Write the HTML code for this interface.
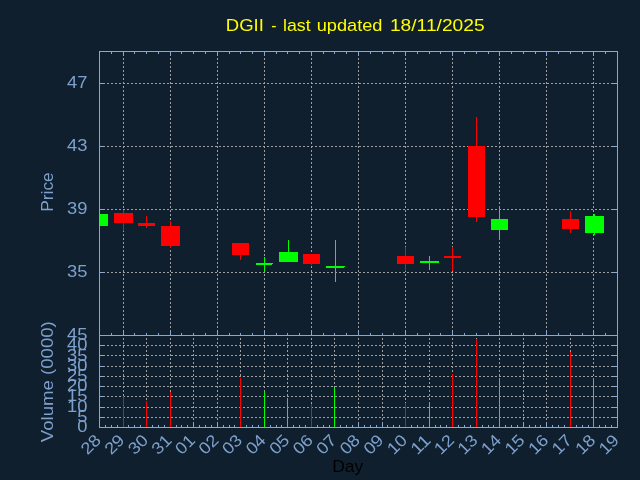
<!DOCTYPE html>
<html><head><meta charset="utf-8"><title>DGII</title>
<style>html,body{margin:0;padding:0;background:#101f2e;overflow:hidden;width:640px;height:480px}svg{display:block;position:absolute;left:0;top:0}text{font-family:"Liberation Sans",sans-serif}</style>
</head><body>
<svg width="640" height="480" viewBox="0 0 640 480">
<defs><filter id="f" x="0" y="0" width="640" height="480" filterUnits="userSpaceOnUse" color-interpolation-filters="sRGB"><feOffset dx="0" dy="0"/></filter></defs>
<rect x="0" y="0" width="640" height="480" fill="#101f2e"/>
<g shape-rendering="crispEdges" stroke="#a0a0a0" stroke-width="1" stroke-dasharray="2 2" fill="none">
<line x1="99" y1="83.5" x2="617" y2="83.5" stroke-dashoffset="0"/>
<line x1="99" y1="146.5" x2="617" y2="146.5" stroke-dashoffset="0"/>
<line x1="99" y1="209.5" x2="617" y2="209.5" stroke-dashoffset="0"/>
<line x1="99" y1="272.5" x2="617" y2="272.5" stroke-dashoffset="0"/>
<line x1="123.5" y1="52" x2="123.5" y2="335" stroke-dashoffset="2"/>
<line x1="170.5" y1="52" x2="170.5" y2="335" stroke-dashoffset="2"/>
<line x1="217.5" y1="52" x2="217.5" y2="335" stroke-dashoffset="2"/>
<line x1="264.5" y1="52" x2="264.5" y2="335" stroke-dashoffset="2"/>
<line x1="311.5" y1="52" x2="311.5" y2="335" stroke-dashoffset="2"/>
<line x1="358.5" y1="52" x2="358.5" y2="335" stroke-dashoffset="2"/>
<line x1="405.5" y1="52" x2="405.5" y2="335" stroke-dashoffset="2"/>
<line x1="452.5" y1="52" x2="452.5" y2="335" stroke-dashoffset="2"/>
<line x1="499.5" y1="52" x2="499.5" y2="335" stroke-dashoffset="2"/>
<line x1="546.5" y1="52" x2="546.5" y2="335" stroke-dashoffset="2"/>
<line x1="593.5" y1="52" x2="593.5" y2="335" stroke-dashoffset="2"/>
<line x1="99" y1="417.5" x2="617" y2="417.5"/>
<line x1="99" y1="407.5" x2="617" y2="407.5"/>
<line x1="99" y1="396.5" x2="617" y2="396.5"/>
<line x1="99" y1="386.5" x2="617" y2="386.5"/>
<line x1="99" y1="376.5" x2="617" y2="376.5"/>
<line x1="99" y1="366.5" x2="617" y2="366.5"/>
<line x1="99" y1="355.5" x2="617" y2="355.5"/>
<line x1="99" y1="345.5" x2="617" y2="345.5"/>
<line x1="123.5" y1="336" x2="123.5" y2="427" stroke-dashoffset="2"/>
<line x1="146.5" y1="336" x2="146.5" y2="427" stroke-dashoffset="2"/>
<line x1="170.5" y1="336" x2="170.5" y2="427" stroke-dashoffset="2"/>
<line x1="193.5" y1="336" x2="193.5" y2="427" stroke-dashoffset="2"/>
<line x1="217.5" y1="336" x2="217.5" y2="427" stroke-dashoffset="2"/>
<line x1="240.5" y1="336" x2="240.5" y2="427" stroke-dashoffset="2"/>
<line x1="264.5" y1="336" x2="264.5" y2="427" stroke-dashoffset="2"/>
<line x1="287.5" y1="336" x2="287.5" y2="427" stroke-dashoffset="2"/>
<line x1="311.5" y1="336" x2="311.5" y2="427" stroke-dashoffset="2"/>
<line x1="334.5" y1="336" x2="334.5" y2="427" stroke-dashoffset="2"/>
<line x1="358.5" y1="336" x2="358.5" y2="427" stroke-dashoffset="2"/>
<line x1="382.5" y1="336" x2="382.5" y2="427" stroke-dashoffset="2"/>
<line x1="405.5" y1="336" x2="405.5" y2="427" stroke-dashoffset="2"/>
<line x1="429.5" y1="336" x2="429.5" y2="427" stroke-dashoffset="2"/>
<line x1="452.5" y1="336" x2="452.5" y2="427" stroke-dashoffset="2"/>
<line x1="476.5" y1="336" x2="476.5" y2="427" stroke-dashoffset="2"/>
<line x1="499.5" y1="336" x2="499.5" y2="427" stroke-dashoffset="2"/>
<line x1="523.5" y1="336" x2="523.5" y2="427" stroke-dashoffset="2"/>
<line x1="546.5" y1="336" x2="546.5" y2="427" stroke-dashoffset="2"/>
<line x1="570.5" y1="336" x2="570.5" y2="427" stroke-dashoffset="2"/>
<line x1="593.5" y1="336" x2="593.5" y2="427" stroke-dashoffset="2"/>
</g>
<g shape-rendering="crispEdges">
<rect x="100" y="214" width="8" height="12" fill="#00ff00"/>
<rect x="123" y="210" width="1" height="21" fill="#ff0000"/>
<rect x="114" y="213" width="19" height="10" fill="#ff0000"/>
<rect x="146" y="216" width="1" height="12" fill="#ff0000"/>
<rect x="138" y="223" width="17" height="3" fill="#ff0000"/>
<rect x="170" y="221" width="1" height="27" fill="#ff0000"/>
<rect x="161" y="226" width="19" height="20" fill="#ff0000"/>
<rect x="240" y="243" width="1" height="17" fill="#ff0000"/>
<rect x="232" y="243" width="17" height="12" fill="#ff0000"/>
<rect x="264" y="257" width="1" height="15" fill="#00ff00"/>
<rect x="256" y="263" width="17" height="2" fill="#00ff00"/>
<rect x="288" y="240" width="1" height="22" fill="#00ff00"/>
<rect x="279" y="252" width="19" height="10" fill="#00ff00"/>
<rect x="311" y="254" width="1" height="11" fill="#ff0000"/>
<rect x="303" y="254" width="17" height="10" fill="#ff0000"/>
<rect x="335" y="240" width="1" height="42" fill="#00ff00"/>
<rect x="326" y="266" width="19" height="2" fill="#00ff00"/>
<rect x="405" y="247" width="1" height="24" fill="#ff0000"/>
<rect x="397" y="256" width="17" height="8" fill="#ff0000"/>
<rect x="429" y="256" width="1" height="14" fill="#00ff00"/>
<rect x="420" y="261" width="19" height="2" fill="#00ff00"/>
<rect x="452" y="247" width="1" height="24" fill="#ff0000"/>
<rect x="444" y="256" width="17" height="2" fill="#ff0000"/>
<rect x="476" y="117" width="1" height="105" fill="#ff0000"/>
<rect x="468" y="146" width="17" height="71" fill="#ff0000"/>
<rect x="499" y="206" width="1" height="33" fill="#00ff00"/>
<rect x="491" y="219" width="17" height="11" fill="#00ff00"/>
<rect x="570" y="211" width="1" height="22" fill="#ff0000"/>
<rect x="562" y="219" width="17" height="10" fill="#ff0000"/>
<rect x="594" y="214" width="1" height="21" fill="#00ff00"/>
<rect x="585" y="216" width="19" height="17" fill="#00ff00"/>
<rect x="272" y="264" width="1" height="1" fill="#101f2e"/>
<rect x="344" y="267" width="1" height="1" fill="#101f2e"/>
</g>
<g shape-rendering="crispEdges" fill="#84a9d6">
<rect x="99" y="51" width="519" height="1"/>
<rect x="99" y="335" width="519" height="1"/>
<rect x="99" y="427" width="519" height="1"/>
<rect x="99" y="51" width="1" height="377"/>
<rect x="617" y="51" width="1" height="377"/>
<rect x="100" y="83" width="4" height="1"/>
<rect x="613" y="83" width="4" height="1"/>
<rect x="100" y="146" width="4" height="1"/>
<rect x="613" y="146" width="4" height="1"/>
<rect x="100" y="209" width="4" height="1"/>
<rect x="613" y="209" width="4" height="1"/>
<rect x="100" y="272" width="4" height="1"/>
<rect x="613" y="272" width="4" height="1"/>
<rect x="100" y="417" width="4" height="1"/>
<rect x="613" y="417" width="4" height="1"/>
<rect x="100" y="407" width="4" height="1"/>
<rect x="613" y="407" width="4" height="1"/>
<rect x="100" y="396" width="4" height="1"/>
<rect x="613" y="396" width="4" height="1"/>
<rect x="100" y="386" width="4" height="1"/>
<rect x="613" y="386" width="4" height="1"/>
<rect x="100" y="376" width="4" height="1"/>
<rect x="613" y="376" width="4" height="1"/>
<rect x="100" y="366" width="4" height="1"/>
<rect x="613" y="366" width="4" height="1"/>
<rect x="100" y="355" width="4" height="1"/>
<rect x="613" y="355" width="4" height="1"/>
<rect x="100" y="345" width="4" height="1"/>
<rect x="613" y="345" width="4" height="1"/>
<rect x="111" y="52" width="1" height="2"/>
<rect x="111" y="333" width="1" height="2"/>
<rect x="123" y="52" width="1" height="4"/>
<rect x="123" y="331" width="1" height="4"/>
<rect x="134" y="52" width="1" height="2"/>
<rect x="134" y="333" width="1" height="2"/>
<rect x="146" y="52" width="1" height="2"/>
<rect x="146" y="333" width="1" height="2"/>
<rect x="158" y="52" width="1" height="2"/>
<rect x="158" y="333" width="1" height="2"/>
<rect x="170" y="52" width="1" height="4"/>
<rect x="170" y="331" width="1" height="4"/>
<rect x="181" y="52" width="1" height="2"/>
<rect x="181" y="333" width="1" height="2"/>
<rect x="193" y="52" width="1" height="2"/>
<rect x="193" y="333" width="1" height="2"/>
<rect x="205" y="52" width="1" height="2"/>
<rect x="205" y="333" width="1" height="2"/>
<rect x="217" y="52" width="1" height="4"/>
<rect x="217" y="331" width="1" height="4"/>
<rect x="229" y="52" width="1" height="2"/>
<rect x="229" y="333" width="1" height="2"/>
<rect x="240" y="52" width="1" height="2"/>
<rect x="240" y="333" width="1" height="2"/>
<rect x="252" y="52" width="1" height="2"/>
<rect x="252" y="333" width="1" height="2"/>
<rect x="264" y="52" width="1" height="4"/>
<rect x="264" y="331" width="1" height="4"/>
<rect x="276" y="52" width="1" height="2"/>
<rect x="276" y="333" width="1" height="2"/>
<rect x="287" y="52" width="1" height="2"/>
<rect x="287" y="333" width="1" height="2"/>
<rect x="299" y="52" width="1" height="2"/>
<rect x="299" y="333" width="1" height="2"/>
<rect x="311" y="52" width="1" height="4"/>
<rect x="311" y="331" width="1" height="4"/>
<rect x="323" y="52" width="1" height="2"/>
<rect x="323" y="333" width="1" height="2"/>
<rect x="334" y="52" width="1" height="2"/>
<rect x="334" y="333" width="1" height="2"/>
<rect x="346" y="52" width="1" height="2"/>
<rect x="346" y="333" width="1" height="2"/>
<rect x="358" y="52" width="1" height="4"/>
<rect x="358" y="331" width="1" height="4"/>
<rect x="370" y="52" width="1" height="2"/>
<rect x="370" y="333" width="1" height="2"/>
<rect x="382" y="52" width="1" height="2"/>
<rect x="382" y="333" width="1" height="2"/>
<rect x="393" y="52" width="1" height="2"/>
<rect x="393" y="333" width="1" height="2"/>
<rect x="405" y="52" width="1" height="4"/>
<rect x="405" y="331" width="1" height="4"/>
<rect x="417" y="52" width="1" height="2"/>
<rect x="417" y="333" width="1" height="2"/>
<rect x="429" y="52" width="1" height="2"/>
<rect x="429" y="333" width="1" height="2"/>
<rect x="440" y="52" width="1" height="2"/>
<rect x="440" y="333" width="1" height="2"/>
<rect x="452" y="52" width="1" height="4"/>
<rect x="452" y="331" width="1" height="4"/>
<rect x="464" y="52" width="1" height="2"/>
<rect x="464" y="333" width="1" height="2"/>
<rect x="476" y="52" width="1" height="2"/>
<rect x="476" y="333" width="1" height="2"/>
<rect x="488" y="52" width="1" height="2"/>
<rect x="488" y="333" width="1" height="2"/>
<rect x="499" y="52" width="1" height="4"/>
<rect x="499" y="331" width="1" height="4"/>
<rect x="511" y="52" width="1" height="2"/>
<rect x="511" y="333" width="1" height="2"/>
<rect x="523" y="52" width="1" height="2"/>
<rect x="523" y="333" width="1" height="2"/>
<rect x="535" y="52" width="1" height="2"/>
<rect x="535" y="333" width="1" height="2"/>
<rect x="546" y="52" width="1" height="4"/>
<rect x="546" y="331" width="1" height="4"/>
<rect x="558" y="52" width="1" height="2"/>
<rect x="558" y="333" width="1" height="2"/>
<rect x="570" y="52" width="1" height="2"/>
<rect x="570" y="333" width="1" height="2"/>
<rect x="582" y="52" width="1" height="2"/>
<rect x="582" y="333" width="1" height="2"/>
<rect x="593" y="52" width="1" height="4"/>
<rect x="593" y="331" width="1" height="4"/>
<rect x="605" y="52" width="1" height="2"/>
<rect x="605" y="333" width="1" height="2"/>
<rect x="105" y="425" width="1" height="2"/>
<rect x="111" y="425" width="1" height="2"/>
<rect x="117" y="425" width="1" height="2"/>
<rect x="123" y="423" width="1" height="4"/>
<rect x="128" y="425" width="1" height="2"/>
<rect x="134" y="425" width="1" height="2"/>
<rect x="140" y="425" width="1" height="2"/>
<rect x="146" y="423" width="1" height="4"/>
<rect x="152" y="425" width="1" height="2"/>
<rect x="158" y="425" width="1" height="2"/>
<rect x="164" y="425" width="1" height="2"/>
<rect x="170" y="423" width="1" height="4"/>
<rect x="176" y="425" width="1" height="2"/>
<rect x="181" y="425" width="1" height="2"/>
<rect x="187" y="425" width="1" height="2"/>
<rect x="193" y="423" width="1" height="4"/>
<rect x="199" y="425" width="1" height="2"/>
<rect x="205" y="425" width="1" height="2"/>
<rect x="211" y="425" width="1" height="2"/>
<rect x="217" y="423" width="1" height="4"/>
<rect x="223" y="425" width="1" height="2"/>
<rect x="229" y="425" width="1" height="2"/>
<rect x="234" y="425" width="1" height="2"/>
<rect x="240" y="423" width="1" height="4"/>
<rect x="246" y="425" width="1" height="2"/>
<rect x="252" y="425" width="1" height="2"/>
<rect x="258" y="425" width="1" height="2"/>
<rect x="264" y="423" width="1" height="4"/>
<rect x="270" y="425" width="1" height="2"/>
<rect x="276" y="425" width="1" height="2"/>
<rect x="281" y="425" width="1" height="2"/>
<rect x="287" y="423" width="1" height="4"/>
<rect x="293" y="425" width="1" height="2"/>
<rect x="299" y="425" width="1" height="2"/>
<rect x="305" y="425" width="1" height="2"/>
<rect x="311" y="423" width="1" height="4"/>
<rect x="317" y="425" width="1" height="2"/>
<rect x="323" y="425" width="1" height="2"/>
<rect x="329" y="425" width="1" height="2"/>
<rect x="334" y="423" width="1" height="4"/>
<rect x="340" y="425" width="1" height="2"/>
<rect x="346" y="425" width="1" height="2"/>
<rect x="352" y="425" width="1" height="2"/>
<rect x="358" y="423" width="1" height="4"/>
<rect x="364" y="425" width="1" height="2"/>
<rect x="370" y="425" width="1" height="2"/>
<rect x="376" y="425" width="1" height="2"/>
<rect x="382" y="423" width="1" height="4"/>
<rect x="387" y="425" width="1" height="2"/>
<rect x="393" y="425" width="1" height="2"/>
<rect x="399" y="425" width="1" height="2"/>
<rect x="405" y="423" width="1" height="4"/>
<rect x="411" y="425" width="1" height="2"/>
<rect x="417" y="425" width="1" height="2"/>
<rect x="423" y="425" width="1" height="2"/>
<rect x="429" y="423" width="1" height="4"/>
<rect x="435" y="425" width="1" height="2"/>
<rect x="440" y="425" width="1" height="2"/>
<rect x="446" y="425" width="1" height="2"/>
<rect x="452" y="423" width="1" height="4"/>
<rect x="458" y="425" width="1" height="2"/>
<rect x="464" y="425" width="1" height="2"/>
<rect x="470" y="425" width="1" height="2"/>
<rect x="476" y="423" width="1" height="4"/>
<rect x="482" y="425" width="1" height="2"/>
<rect x="488" y="425" width="1" height="2"/>
<rect x="493" y="425" width="1" height="2"/>
<rect x="499" y="423" width="1" height="4"/>
<rect x="505" y="425" width="1" height="2"/>
<rect x="511" y="425" width="1" height="2"/>
<rect x="517" y="425" width="1" height="2"/>
<rect x="523" y="423" width="1" height="4"/>
<rect x="529" y="425" width="1" height="2"/>
<rect x="535" y="425" width="1" height="2"/>
<rect x="540" y="425" width="1" height="2"/>
<rect x="546" y="423" width="1" height="4"/>
<rect x="552" y="425" width="1" height="2"/>
<rect x="558" y="425" width="1" height="2"/>
<rect x="564" y="425" width="1" height="2"/>
<rect x="570" y="423" width="1" height="4"/>
<rect x="576" y="425" width="1" height="2"/>
<rect x="582" y="425" width="1" height="2"/>
<rect x="588" y="425" width="1" height="2"/>
<rect x="593" y="423" width="1" height="4"/>
<rect x="599" y="425" width="1" height="2"/>
<rect x="605" y="425" width="1" height="2"/>
<rect x="611" y="425" width="1" height="2"/>
</g>
<g shape-rendering="crispEdges">
<rect x="123" y="396" width="1" height="31" fill="#ff0000"/>
<rect x="146" y="401" width="1" height="26" fill="#ff0000"/>
<rect x="170" y="392" width="1" height="35" fill="#ff0000"/>
<rect x="240" y="378" width="1" height="49" fill="#ff0000"/>
<rect x="264" y="392" width="1" height="35" fill="#00ff00"/>
<rect x="287" y="398" width="1" height="29" fill="#00ff00"/>
<rect x="311" y="404" width="1" height="23" fill="#ff0000"/>
<rect x="334" y="388" width="1" height="39" fill="#00ff00"/>
<rect x="405" y="403" width="1" height="24" fill="#ff0000"/>
<rect x="429" y="402" width="1" height="25" fill="#00ff00"/>
<rect x="452" y="374" width="1" height="53" fill="#ff0000"/>
<rect x="476" y="339" width="1" height="88" fill="#ff0000"/>
<rect x="499" y="378" width="1" height="49" fill="#00ff00"/>
<rect x="570" y="352" width="1" height="75" fill="#ff0000"/>
<rect x="593" y="378" width="1" height="49" fill="#00ff00"/>
</g>
<g fill="#7da1cd" font-size="16.6" filter="url(#f)">
<text x="87.5" y="88.1" text-anchor="end" textLength="20.4" lengthAdjust="spacingAndGlyphs">47</text>
<text x="87.5" y="151.1" text-anchor="end" textLength="20.4" lengthAdjust="spacingAndGlyphs">43</text>
<text x="87.5" y="214.1" text-anchor="end" textLength="20.4" lengthAdjust="spacingAndGlyphs">39</text>
<text x="87.5" y="277.1" text-anchor="end" textLength="20.4" lengthAdjust="spacingAndGlyphs">35</text>
<text x="87.5" y="432.10" text-anchor="end" textLength="10.2" lengthAdjust="spacingAndGlyphs">0</text>
<text x="87.5" y="421.88" text-anchor="end" textLength="10.2" lengthAdjust="spacingAndGlyphs">5</text>
<text x="87.5" y="411.66" text-anchor="end" textLength="20.4" lengthAdjust="spacingAndGlyphs">10</text>
<text x="87.5" y="401.43" text-anchor="end" textLength="20.4" lengthAdjust="spacingAndGlyphs">15</text>
<text x="87.5" y="391.21" text-anchor="end" textLength="20.4" lengthAdjust="spacingAndGlyphs">20</text>
<text x="87.5" y="380.99" text-anchor="end" textLength="20.4" lengthAdjust="spacingAndGlyphs">25</text>
<text x="87.5" y="370.77" text-anchor="end" textLength="20.4" lengthAdjust="spacingAndGlyphs">30</text>
<text x="87.5" y="360.54" text-anchor="end" textLength="20.4" lengthAdjust="spacingAndGlyphs">35</text>
<text x="87.5" y="350.32" text-anchor="end" textLength="20.4" lengthAdjust="spacingAndGlyphs">40</text>
<text x="87.5" y="340.10" text-anchor="end" textLength="20.4" lengthAdjust="spacingAndGlyphs">45</text>
<text transform="translate(102.00,441.20) rotate(-45)" x="0" y="0" text-anchor="end" textLength="20.4" lengthAdjust="spacingAndGlyphs">28</text>
<text transform="translate(125.55,441.20) rotate(-45)" x="0" y="0" text-anchor="end" textLength="20.4" lengthAdjust="spacingAndGlyphs">29</text>
<text transform="translate(149.09,441.20) rotate(-45)" x="0" y="0" text-anchor="end" textLength="20.4" lengthAdjust="spacingAndGlyphs">30</text>
<text transform="translate(172.64,441.20) rotate(-45)" x="0" y="0" text-anchor="end" textLength="20.4" lengthAdjust="spacingAndGlyphs">31</text>
<text transform="translate(196.18,441.20) rotate(-45)" x="0" y="0" text-anchor="end" textLength="20.4" lengthAdjust="spacingAndGlyphs">01</text>
<text transform="translate(219.73,441.20) rotate(-45)" x="0" y="0" text-anchor="end" textLength="20.4" lengthAdjust="spacingAndGlyphs">02</text>
<text transform="translate(243.27,441.20) rotate(-45)" x="0" y="0" text-anchor="end" textLength="20.4" lengthAdjust="spacingAndGlyphs">03</text>
<text transform="translate(266.82,441.20) rotate(-45)" x="0" y="0" text-anchor="end" textLength="20.4" lengthAdjust="spacingAndGlyphs">04</text>
<text transform="translate(290.36,441.20) rotate(-45)" x="0" y="0" text-anchor="end" textLength="20.4" lengthAdjust="spacingAndGlyphs">05</text>
<text transform="translate(313.91,441.20) rotate(-45)" x="0" y="0" text-anchor="end" textLength="20.4" lengthAdjust="spacingAndGlyphs">06</text>
<text transform="translate(337.45,441.20) rotate(-45)" x="0" y="0" text-anchor="end" textLength="20.4" lengthAdjust="spacingAndGlyphs">07</text>
<text transform="translate(361.00,441.20) rotate(-45)" x="0" y="0" text-anchor="end" textLength="20.4" lengthAdjust="spacingAndGlyphs">08</text>
<text transform="translate(384.55,441.20) rotate(-45)" x="0" y="0" text-anchor="end" textLength="20.4" lengthAdjust="spacingAndGlyphs">09</text>
<text transform="translate(408.09,441.20) rotate(-45)" x="0" y="0" text-anchor="end" textLength="20.4" lengthAdjust="spacingAndGlyphs">10</text>
<text transform="translate(431.64,441.20) rotate(-45)" x="0" y="0" text-anchor="end" textLength="20.4" lengthAdjust="spacingAndGlyphs">11</text>
<text transform="translate(455.18,441.20) rotate(-45)" x="0" y="0" text-anchor="end" textLength="20.4" lengthAdjust="spacingAndGlyphs">12</text>
<text transform="translate(478.73,441.20) rotate(-45)" x="0" y="0" text-anchor="end" textLength="20.4" lengthAdjust="spacingAndGlyphs">13</text>
<text transform="translate(502.27,441.20) rotate(-45)" x="0" y="0" text-anchor="end" textLength="20.4" lengthAdjust="spacingAndGlyphs">14</text>
<text transform="translate(525.82,441.20) rotate(-45)" x="0" y="0" text-anchor="end" textLength="20.4" lengthAdjust="spacingAndGlyphs">15</text>
<text transform="translate(549.36,441.20) rotate(-45)" x="0" y="0" text-anchor="end" textLength="20.4" lengthAdjust="spacingAndGlyphs">16</text>
<text transform="translate(572.91,441.20) rotate(-45)" x="0" y="0" text-anchor="end" textLength="20.4" lengthAdjust="spacingAndGlyphs">17</text>
<text transform="translate(596.45,441.20) rotate(-45)" x="0" y="0" text-anchor="end" textLength="20.4" lengthAdjust="spacingAndGlyphs">18</text>
<text transform="translate(620.00,441.20) rotate(-45)" x="0" y="0" text-anchor="end" textLength="20.4" lengthAdjust="spacingAndGlyphs">19</text>
<text transform="translate(53,192) rotate(-90)" text-anchor="middle" textLength="39.5" lengthAdjust="spacingAndGlyphs">Price</text>
<text transform="translate(53,381.7) rotate(-90)" text-anchor="middle" textLength="121" lengthAdjust="spacingAndGlyphs">Volume (0000)</text>
</g>
<g fill="#ffff00" font-size="16.6" filter="url(#f)">
<text x="225.80" y="30.7" textLength="38.10" lengthAdjust="spacingAndGlyphs">DGII</text>
<text x="271.25" y="30.7" textLength="5.20" lengthAdjust="spacingAndGlyphs">-</text>
<text x="283.00" y="30.7" textLength="27.60" lengthAdjust="spacingAndGlyphs">last</text>
<text x="316.70" y="30.7" textLength="65.80" lengthAdjust="spacingAndGlyphs">updated</text>
<text x="389.90" y="30.7" textLength="94.80" lengthAdjust="spacingAndGlyphs">18/11/2025</text>
</g>
<text x="332.2" y="471.6" font-size="16.6" fill="#000000" filter="url(#f)" textLength="31.2" lengthAdjust="spacingAndGlyphs">Day</text>
</svg>
</body></html>
